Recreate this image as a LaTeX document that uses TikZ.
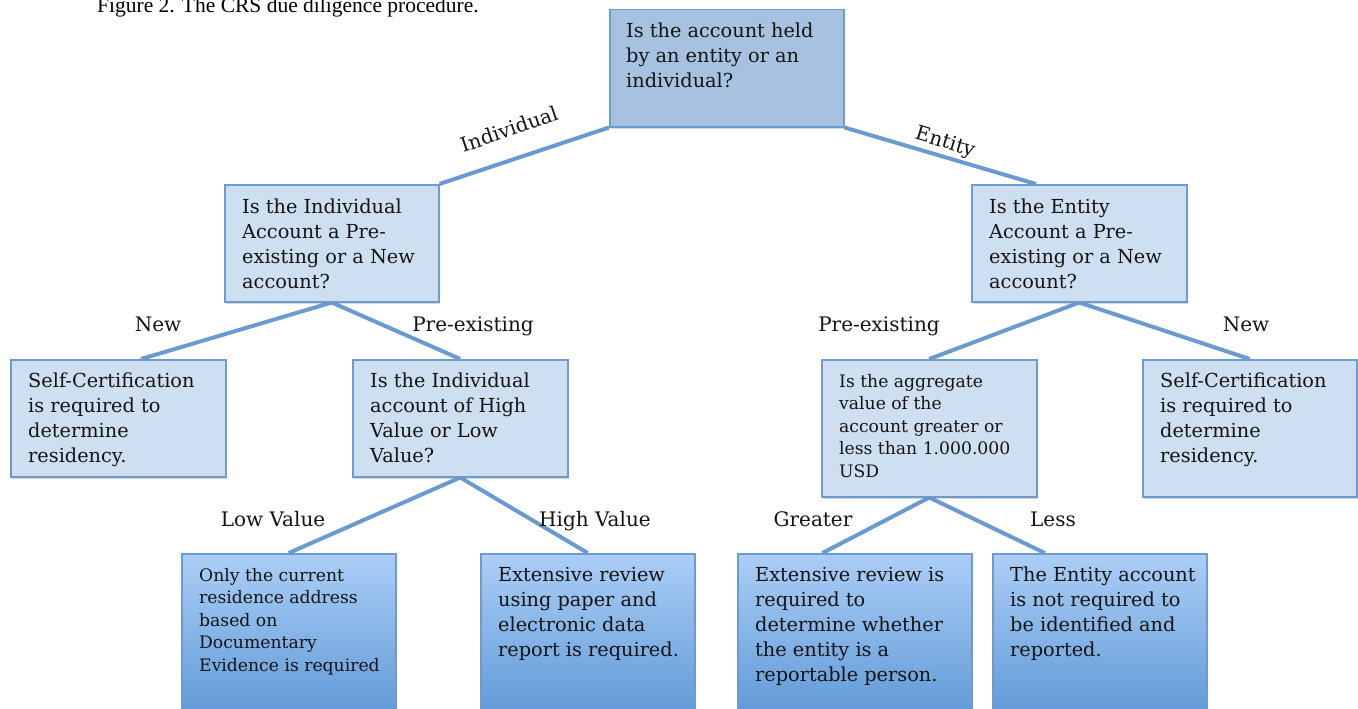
\documentclass[tikz,border=0pt]{standalone}
\usepackage{fontspec}
\setmainfont{DejaVu Serif}
\newfontfamily\capfont{Liberation Serif}
\usetikzlibrary{shadows,backgrounds,calc}
\definecolor{boxline}{RGB}{110,155,205}
\definecolor{lineblue}{RGB}{106,155,208}
\definecolor{topfill}{RGB}{167,194,224}
\definecolor{lightfill}{RGB}{206,223,241}
\definecolor{gradtop}{RGB}{172,206,247}
\definecolor{gradbot}{RGB}{72,138,205}
\definecolor{txtcol}{RGB}{20,20,20}
\tikzset{
  box/.style={draw=boxline, line width=1.5pt, fill=lightfill, anchor=north west, inner sep=0pt,
    drop shadow={opacity=0.3, shadow xshift=1.5pt, shadow yshift=-2.5pt}},
  darkbox/.style={box, fill=topfill},
  gradbox/.style={box, top color=gradtop, bottom color=gradbot},
  txt/.style={anchor=north west, align=left, inner sep=0pt, text=txtcol,
    font=\fontsize{19.3}{25}\selectfont},
  smalltxt/.style={txt, font=\fontsize{17.2}{22.5}\selectfont},
  conn/.style={draw=lineblue, line width=4pt},
  lbl/.style={anchor=base, inner sep=0pt, text=txtcol, font=\fontsize{20}{22}\selectfont}
}
\begin{document}
\begin{tikzpicture}[x=1pt,y=-1pt]
\useasboundingbox (0,0) rectangle (1358,709);
\clip (0,0) rectangle (1358,709);

\node[anchor=base west, inner sep=0pt, font=\capfont\fontsize{21.5}{24}\selectfont] (cap) at (97,13) {Figure 2. The CRS due diligence procedure.};

% boxes
\node[darkbox, minimum width=234pt, minimum height=117pt] (q0) at (609,9) {};
\node[txt] (q0t) at (626,23) {Is the account held\\by an entity or an\\individual?};

\node[box, minimum width=214pt, minimum height=117pt] (qi) at (224,184) {};
\node[txt] (qit) at (242,199) {Is the Individual\\Account a Pre-\\existing or a New\\account?};

\node[box, minimum width=215pt, minimum height=117pt] (qe) at (971,184) {};
\node[txt] (qet) at (989,199) {Is the Entity\\Account a Pre-\\existing or a New\\account?};

\node[box, minimum width=215pt, minimum height=117pt] (sc1) at (10,359) {};
\node[txt] (sc1t) at (28,373) {Self-Certification\\is required to\\determine\\residency.};

\node[box, minimum width=215pt, minimum height=117pt] (hv) at (352,359) {};
\node[txt] (hvt) at (370,373) {Is the Individual\\account of High\\Value or Low\\Value?};

\node[box, minimum width=215pt, minimum height=137pt] (ag) at (821,359) {};
\node[smalltxt] (agt) at (839,374) {Is the aggregate\\value of the\\account greater or\\less than 1.000.000\\USD};

\node[box, minimum width=214pt, minimum height=137pt] (sc2) at (1142,359) {};
\node[txt] (sc2t) at (1160,373) {Self-Certification\\is required to\\determine\\residency.};

\node[gradbox, minimum width=214pt, minimum height=210pt] (b1) at (181,553) {};
\node[smalltxt] (b1t) at (199,568) {Only the current\\residence address\\based on\\Documentary\\Evidence is required};

\node[gradbox, minimum width=214pt, minimum height=210pt] (b2) at (480,553) {};
\node[txt] (b2t) at (498,567) {Extensive review\\using paper and\\electronic data\\report is required.};

\node[gradbox, minimum width=234pt, minimum height=210pt] (b3) at (737,553) {};
\node[txt] (b3t) at (755,567) {Extensive review is\\required to\\determine whether\\the entity is a\\reportable person.};

\node[gradbox, minimum width=214pt, minimum height=210pt] (b4) at (992,553) {};
\node[txt] (b4t) at (1010,567) {The Entity account\\is not required to\\be identified and\\reported.};

% connectors
\begin{scope}[on background layer]
\draw[conn] (q0.south west) -- (qi.north east);
\draw[conn] (q0.south east) -- ($(qe.north west)!0.3!(qe.north east)$);
\draw[conn] (qi.south) -- ($(sc1.north west)!0.605!(sc1.north east)$);
\draw[conn] (qi.south) -- (hv.north);
\draw[conn] (qe.south) -- (ag.north);
\draw[conn] (qe.south) -- (sc2.north);
\draw[conn] (hv.south) -- (b1.north);
\draw[conn] (hv.south) -- (b2.north);
\draw[conn] (ag.south) -- ($(b3.north west)!0.363!(b3.north east)$);
\draw[conn] (ag.south) -- ($(b4.north west)!0.245!(b4.north east)$);
\end{scope}

% labels
\node[lbl, anchor=center, rotate=19] (lind) at (509,129) {Individual};
\node[lbl, anchor=center, rotate=-17] (lent) at (945,143) {Entity};
\node[lbl] (l1) at (158,331) {New};
\node[lbl] (l2) at (473,331) {Pre-existing};
\node[lbl] (l3) at (879,331) {Pre-existing};
\node[lbl] (l4) at (1246,331) {New};
\node[lbl] (l5) at (273,526) {Low Value};
\node[lbl] (l6) at (595,526) {High Value};
\node[lbl] (l7) at (813,526) {Greater};
\node[lbl] (l8) at (1053,526) {Less};
\end{tikzpicture}
\end{document}
